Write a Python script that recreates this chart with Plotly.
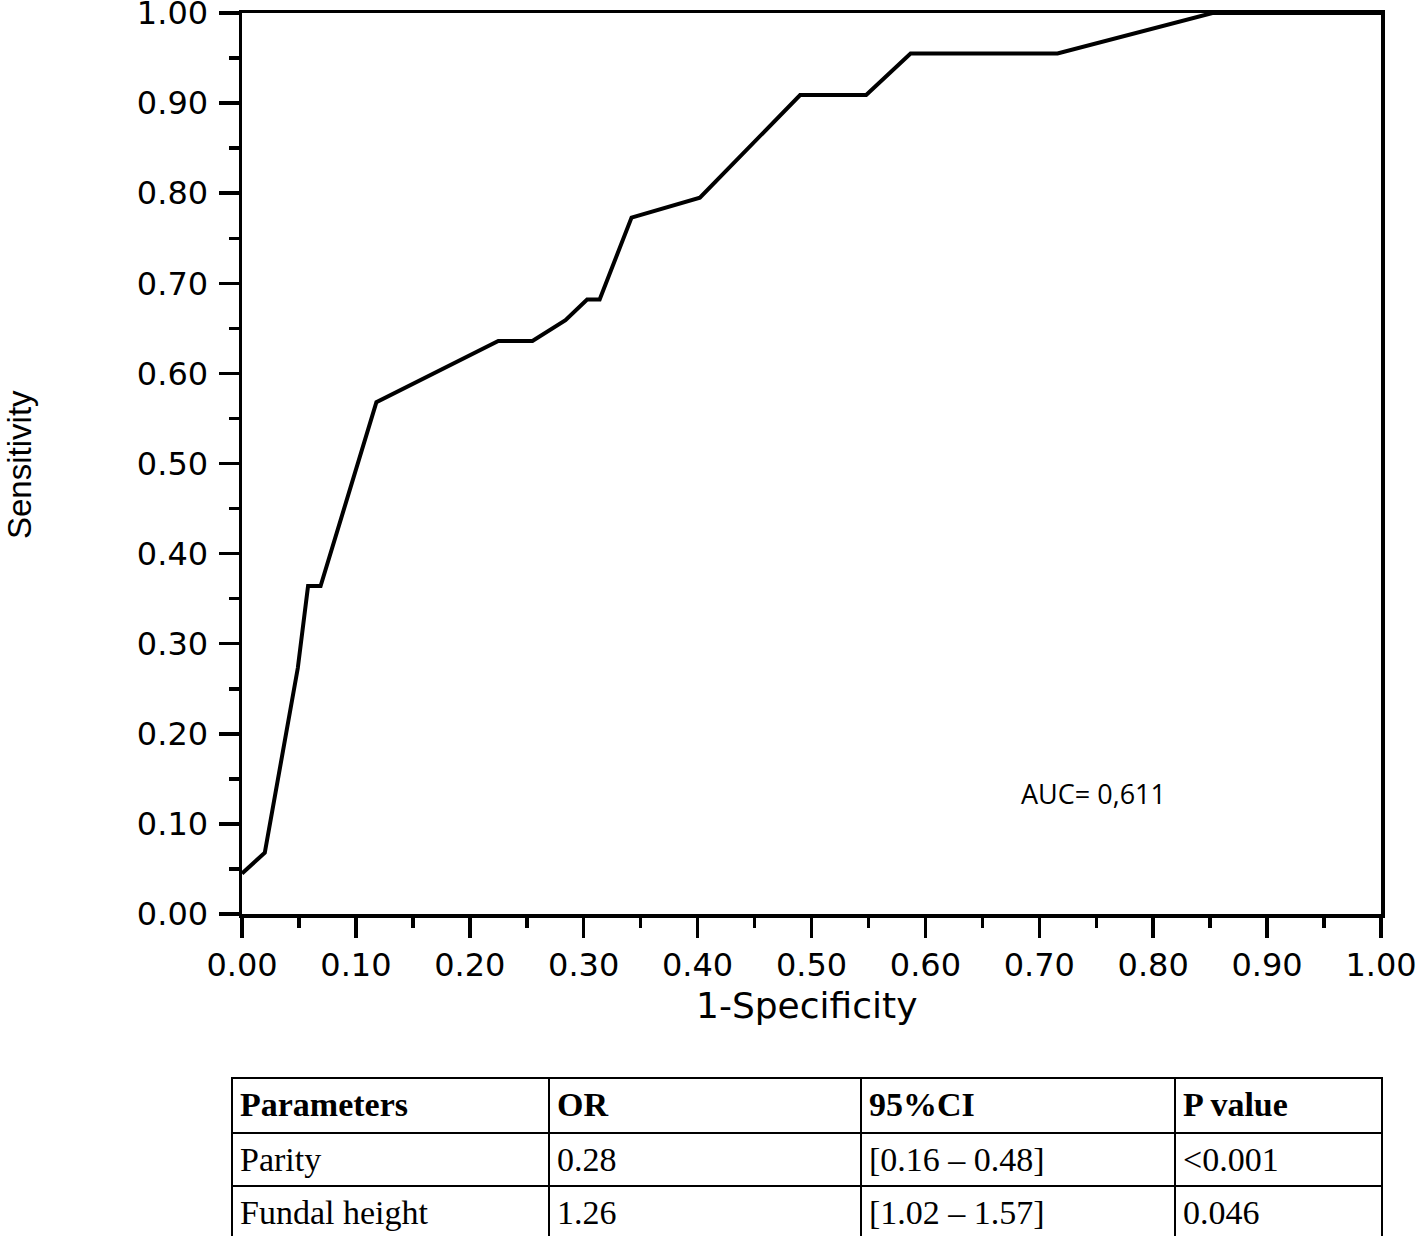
import plotly.graph_objects as go

# ROC curve points (1-Specificity, Sensitivity)
fpr = [0.0, 0.020, 0.049, 0.058, 0.069, 0.118, 0.225, 0.255, 0.284, 0.303, 0.314,
       0.342, 0.402, 0.490, 0.548, 0.587, 0.716, 0.852, 1.0]
tpr = [0.045, 0.068, 0.273, 0.364, 0.364, 0.568, 0.636, 0.636, 0.659, 0.682, 0.682,
       0.773, 0.795, 0.909, 0.909, 0.955, 0.955, 1.0, 1.0]

tick_vals = [0.0, 0.1, 0.2, 0.3, 0.4, 0.5, 0.6, 0.7, 0.8, 0.9, 1.0]
tick_text = ["0.00", "0.10", "0.20", "0.30", "0.40", "0.50", "0.60", "0.70", "0.80", "0.90", "1.00"]

auc_label = "AUC= 0,611"
x_title = "1-Specificity"
y_title = "Sensitivity"

# Table
table_header = ["Parameters", "OR", "95%CI", "P value"]
col_parameters = ["Parity", "Fundal height"]
col_or = ["0.28", "1.26"]
col_ci = ["[0.16 \u2013 0.48]", "[1.02 \u2013 1.57]"]
col_p = ["&lt;0.001", "0.046"]
col_widths = [317, 312, 314, 207]

W, H = 1417, 1238


def span(values):
    return ["<span>%s</span>" % v for v in values]


fig = go.Figure()
fig.add_trace(go.Scatter(
    x=fpr, y=tpr, mode="lines",
    line=dict(color="black", width=4),
    showlegend=False, hoverinfo="skip",
))

fig.add_trace(go.Table(
    domain=dict(x=[232 / W, 1382 / W], y=[1 - 1237 / H, 1 - 1078 / H]),
    columnwidth=col_widths,
    header=dict(
        values=["<b>%s</b>" % h for h in table_header],
        align="left",
        height=55,
        line=dict(color="black", width=2.5),
        fill=dict(color="white"),
        font=dict(family="Liberation Serif", size=34, color="black"),
    ),
    cells=dict(
        values=[span(col_parameters), span(col_or), span(col_ci), span(col_p)],
        align="left",
        height=51,
        line=dict(color="black", width=2.5),
        fill=dict(color="white"),
        font=dict(family="Liberation Serif", size=34, color="black"),
    ),
))

axis_common = dict(
    range=[0, 1],
    tickmode="array",
    tickvals=tick_vals,
    ticktext=tick_text,
    ticks="outside",
    ticklen=20,
    tickwidth=3.5,
    tickcolor="black",
    showline=True,
    linecolor="black",
    linewidth=3.5,
    mirror=True,
    showgrid=False,
    zeroline=False,
    ticklabeloverflow="allow",
    tickfont=dict(family="DejaVu Sans", size=32, color="black"),
    minor=dict(dtick=0.05, tick0=0, ticks="outside", ticklen=10, tickwidth=3.5,
               tickcolor="black", showgrid=False),
    fixedrange=True,
)

fig.update_layout(
    width=W, height=H,
    margin=dict(l=0, r=0, t=0, b=0, autoexpand=False),
    paper_bgcolor="white",
    plot_bgcolor="white",
    xaxis=dict(domain=[242 / W, 1381 / W], **axis_common),
    yaxis=dict(domain=[1 - 914 / H, 1 - 13 / H], ticklabelstandoff=4, **axis_common),
    annotations=[
        dict(text=auc_label, x=0.748, y=0.134, xref="x", yref="y",
             showarrow=False, xanchor="center", yanchor="middle",
             font=dict(family="Open Sans", size=27, color="black")),
        dict(text=x_title, x=806 / W, y=1 - 1005 / H, xref="paper", yref="paper",
             showarrow=False, xanchor="center", yanchor="middle",
             font=dict(family="DejaVu Sans", size=36, color="black")),
        dict(text=y_title, x=20 / W, y=1 - 465 / H, xref="paper", yref="paper",
             showarrow=False, xanchor="center", yanchor="middle", textangle=-90,
             font=dict(family="Liberation Sans", size=33, color="black")),
    ],
)

fig.write_html(
    "out.html",
    config={"displayModeBar": False, "staticPlot": True},
    post_script="document.body.style.margin='0';document.body.style.overflow='hidden';",
)
